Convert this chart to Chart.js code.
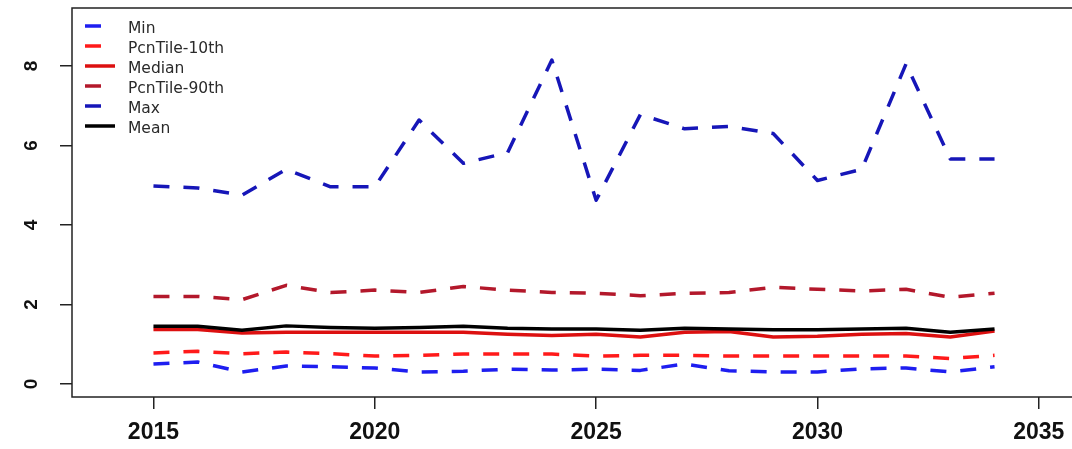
<!DOCTYPE html>
<html>
<head>
<meta charset="utf-8">
<style>
    html, body { margin: 0; padding: 0; background: #fff; overflow: hidden; }
    .chart-wrap { position: relative; width: 1080px; height: 449px; }
</style>
<script src="https://cdn.jsdelivr.net/npm/chart.js@4.4.1/dist/chart.umd.min.js"></script>
</head>
<body>
<div class="chart-wrap"><canvas id="chart"></canvas></div>
<script>
// Values, one entry per year.
const years = [2015, 2016, 2017, 2018, 2019, 2020, 2021, 2022, 2023, 2024,
    2025, 2026, 2027, 2028, 2029, 2030, 2031, 2032, 2033, 2034];

const minValues = [0.50, 0.55, 0.30, 0.45, 0.43, 0.40, 0.30, 0.32, 0.37, 0.35,
    0.37, 0.34, 0.50, 0.33, 0.30, 0.30, 0.38, 0.40, 0.30, 0.43];
const pct10Values = [0.78, 0.82, 0.76, 0.80, 0.76, 0.70, 0.72, 0.75, 0.75, 0.75,
    0.70, 0.72, 0.72, 0.70, 0.70, 0.70, 0.70, 0.70, 0.64, 0.72];
const medianValues = [1.37, 1.37, 1.28, 1.30, 1.30, 1.30, 1.30, 1.30, 1.25, 1.22,
    1.25, 1.18, 1.30, 1.32, 1.18, 1.20, 1.25, 1.27, 1.18, 1.33];
const pct90Values = [2.20, 2.20, 2.12, 2.48, 2.30, 2.36, 2.30, 2.45, 2.36, 2.30,
    2.28, 2.22, 2.28, 2.30, 2.43, 2.38, 2.34, 2.38, 2.18, 2.28];
const maxValues = [4.98, 4.93, 4.75, 5.40, 4.96, 4.96, 6.64, 5.55, 5.82, 8.15,
    4.62, 6.78, 6.42, 6.48, 6.30, 5.12, 5.40, 8.05, 5.66, 5.66];
const meanValues = [1.45, 1.45, 1.35, 1.46, 1.42, 1.40, 1.42, 1.45, 1.40, 1.38,
    1.38, 1.35, 1.40, 1.38, 1.36, 1.36, 1.38, 1.40, 1.30, 1.38];

const seriesLabels = ['Min', 'PcnTile-10th', 'Median', 'PcnTile-90th', 'Max', 'Mean'];
const xTicks = [2015, 2020, 2025, 2030, 2035];
const yTicks = [0, 2, 4, 6, 8];

const DASH = [16, 14];

function series(label, values, color, dashed) {
    return {
        label,
        data: years.map((year, i) => ({ x: year, y: values[i] })),
        borderColor: color,
        backgroundColor: color,
        borderWidth: 3.5,
        borderDash: dashed ? DASH : [],
        borderCapStyle: 'butt',
        borderJoinStyle: 'round',
        pointRadius: 0,
        tension: 0,
        fill: false,
    };
}

const datasets = [
    series(seriesLabels[0], minValues, '#1e1ef0', true),
    series(seriesLabels[1], pct10Values, '#ff1a1a', true),
    series(seriesLabels[2], medianValues, '#dc1010', false),
    series(seriesLabels[3], pct90Values, '#b3182b', true),
    series(seriesLabels[4], maxValues, '#1616b8', true),
    series(seriesLabels[5], meanValues, '#000000', false),
];
// R draws them in order, so the last one ends up on top.
datasets.forEach((d, i) => { d.order = datasets.length - i; });

// The scales would otherwise reserve room for half a label at each end.
function noEdgePadding(scale) {
    scale.paddingTop = 0;
    scale.paddingBottom = 0;
    scale.paddingLeft = 0;
    scale.paddingRight = 0;
}

// Plot frame plus the legend tucked in the top-left corner (bty = "n").
const frameAndLegend = {
    id: 'frameAndLegend',
    afterDraw(chart) {
        const { ctx, chartArea } = chart;
        ctx.save();
        ctx.strokeStyle = '#222';
        ctx.lineWidth = 1.5;
        ctx.strokeRect(chartArea.left, chartArea.top,
            chartArea.right - chartArea.left, chartArea.bottom - chartArea.top);

        const x0 = chartArea.left + 13;
        let y = chartArea.top + 18;
        ctx.font = '15.5px "DejaVu Sans", sans-serif';
        ctx.textBaseline = 'middle';
        ctx.textAlign = 'left';
        chart.data.datasets.forEach((d) => {
            ctx.beginPath();
            ctx.strokeStyle = d.borderColor;
            ctx.lineWidth = 3.5;
            ctx.lineCap = 'butt';
            ctx.setLineDash(d.borderDash);
            ctx.moveTo(x0, y);
            ctx.lineTo(x0 + 30, y);
            ctx.stroke();
            ctx.setLineDash([]);
            ctx.fillStyle = '#2a2a2a';
            ctx.fillText(d.label, x0 + 43, y + 3);
            y += 20;
        });
        ctx.restore();
    },
};

new Chart(document.getElementById('chart'), {
    type: 'line',
    data: { datasets },
    options: {
        responsive: true,
        maintainAspectRatio: false,
        animation: false,
        devicePixelRatio: 1,
        layout: { autoPadding: false, padding: { top: 8, right: 4, left: 0, bottom: 0 } },
        plugins: { legend: { display: false }, tooltip: { enabled: false } },
        scales: {
            x: {
                type: 'linear',
                min: 2013.16,
                max: 2035.84,
                afterBuildTicks: (scale) => { scale.ticks = xTicks.map((v) => ({ value: v })); },
                afterFit: (scale) => { scale.height = 52; noEdgePadding(scale); },
                border: { display: false },
                grid: { drawOnChartArea: false, drawTicks: true, tickLength: 12, color: '#222', lineWidth: 1.5 },
                ticks: {
                    autoSkip: false,
                    maxRotation: 0,
                    padding: 10,
                    color: '#111',
                    font: { family: '"Liberation Sans", Arial, sans-serif', size: 23, weight: 'bold' },
                    callback: (v) => String(v),
                },
            },
            y: {
                min: -0.33,
                max: 9.46,
                afterBuildTicks: (scale) => { scale.ticks = yTicks.map((v) => ({ value: v })); },
                afterFit: (scale) => { scale.width = 72; noEdgePadding(scale); },
                border: { display: false },
                grid: { drawOnChartArea: false, drawTicks: true, tickLength: 12, color: '#222', lineWidth: 1.5 },
                ticks: {
                    minRotation: 90,
                    maxRotation: 90,
                    crossAlign: 'center',
                    padding: 23,
                    color: '#111',
                    font: { family: '"Liberation Sans", Arial, sans-serif', size: 19, weight: 'bold' },
                    callback: (v) => String(v),
                },
            },
        },
    },
    plugins: [frameAndLegend],
});
</script>
</body>
</html>
